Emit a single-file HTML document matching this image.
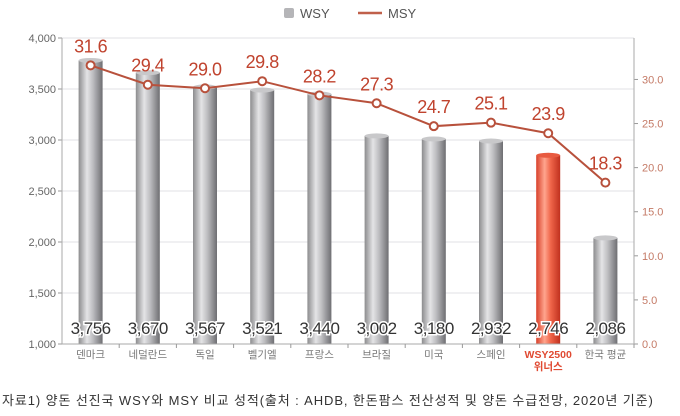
<!DOCTYPE html>
<html><head><meta charset="utf-8"><style>
html,body{margin:0;padding:0;background:#fff;width:680px;height:416px;overflow:hidden}
svg{display:block;font-family:"Liberation Sans","Noto Sans CJK KR",sans-serif}
</style></head><body>
<svg id="chart" width="680" height="416">
<defs>
<linearGradient id="gbar" x1="0" x2="1"><stop offset="0" stop-color="#8c8c8e"/><stop offset="0.35" stop-color="#e4e4e6"/><stop offset="0.6" stop-color="#bdbdc0"/><stop offset="1" stop-color="#6e6e72"/></linearGradient>
<linearGradient id="rbar" x1="0" x2="1"><stop offset="0" stop-color="#d8402a"/><stop offset="0.35" stop-color="#ffa58e"/><stop offset="0.6" stop-color="#f0664a"/><stop offset="1" stop-color="#c0301e"/></linearGradient>
</defs>
<g id="legend">
<rect x="284" y="8" width="10" height="10" rx="2" fill="#b5b5b8"/>
<text x="300" y="18" font-size="13" fill="#555">WSY</text>
<line x1="358" y1="13" x2="382" y2="13" stroke="#c0604a" stroke-width="2.5"/>
<text x="388" y="18" font-size="13" fill="#555">MSY</text>
</g>
<g id="grid"></g><g id="bars"></g><g id="axes"></g><g id="line"></g><g id="labels"></g>
<text x="2" y="405" font-size="13" fill="#333" letter-spacing="0.9">자료1) 양돈 선진국 WSY와 MSY 비교 성적(출처 : AHDB, 한돈팜스 전산성적 및 양돈 수급전망, 2020년 기준)</text>
</svg>
<script>
const categories=["덴마크","네덜란드","독일","벨기엘","프랑스","브라질","미국","스페인","WSY2500","한국 평균"];
const wsyValues=[3756,3670,3567,3521,3440,3002,3180,2932,2746,2086];
const wsyBarHeights=[3780,3660,3520,3490,3450,3040,3010,2990,2850,2040];
const msyValues=[31.6,29.4,29.0,29.8,28.2,27.3,24.7,25.1,23.9,18.3];
const leftTicks=[1000,1500,2000,2500,3000,3500,4000];
const rightTicks=[0,5,10,15,20,25,30];
const NS="http://www.w3.org/2000/svg";
const X0=62,X1=634,Y0=344,YT=38;
const yL=v=>Y0-(v-1000)/3000*(Y0-YT);
const yR=v=>Y0-v/34.7*(Y0-YT);
const bw=(X1-X0)/categories.length;
const xc=i=>X0+bw*(i+0.5);
function mk(tag,attrs,parent,txt){const e=document.createElementNS(NS,tag);for(const k in attrs)e.setAttribute(k,attrs[k]);if(txt!==undefined)e.textContent=txt;document.getElementById(parent).appendChild(e);return e;}
leftTicks.forEach(t=>{
 const g=mk('line',{x1:X0,x2:X1,y1:yL(t),y2:yL(t),stroke:'#e2e2e4','stroke-width':1},'grid');
 
 
 const l=mk('text',{x:X0-6,y:yL(t)+4,'font-size':11,fill:'#666','text-anchor':'end'},'axes',t.toLocaleString('en-US'));
 
 
 mk('line',{x1:X0-4,x2:X0,y1:yL(t),y2:yL(t),stroke:'#999'},'axes');
});
rightTicks.forEach(t=>{
 const l=mk('text',{x:X1+8,y:yR(t)+4,'font-size':11,fill:'#c47a66'},'axes',t.toFixed(1));
 
 
 mk('line',{x1:X1,x2:X1+4,y1:yR(t),y2:yR(t),stroke:'#999'},'axes');
});
mk('line',{x1:X0,x2:X0,y1:YT,y2:Y0,stroke:'#aaa'},'axes');
mk('line',{x1:X1,x2:X1,y1:YT,y2:Y0,stroke:'#aaa'},'axes');
mk('line',{x1:X0,x2:X1,y1:Y0,y2:Y0,stroke:'#aaa'},'axes');
categories.forEach((c,i)=>{
 const hot=i===8;
 const top=yL(wsyBarHeights[i]);
 const b=mk('rect',{x:xc(i)-12,y:top,width:24,height:Y0-top,fill:hot?'url(#rbar)':'url(#gbar)'},'bars');
 
 
 mk('ellipse',{cx:xc(i),cy:top,rx:12,ry:2.5,fill:hot?'#e85a40':'#c8c8ca'},'bars');
 mk('line',{x1:X0+bw*(i+1),x2:X0+bw*(i+1),y1:Y0,y2:Y0+4,stroke:'#999'},'axes');
 const v=mk('text',{x:xc(i),y:334,'font-size':17,fill:'#333','text-anchor':'middle','stroke':'#fff','stroke-width':3,'paint-order':'stroke','letter-spacing':'-0.5'},'labels',wsyValues[i].toLocaleString('en-US'));
 
 
 if(hot){
  const a=mk('text',{x:xc(i),y:358,'font-size':10.5,fill:'#e04a32','font-weight':'bold','text-anchor':'middle'},'labels',c);
  
  
  mk('text',{x:xc(i),y:370,'font-size':10.5,fill:'#e04a32','font-weight':'bold','text-anchor':'middle'},'labels','위너스');
 } else {
  const a=mk('text',{x:xc(i),y:358,'font-size':10.5,fill:'#777','text-anchor':'middle'},'labels',c);
  
  
 }
});
const pts=msyValues.map((v,i)=>xc(i)+','+yR(v)).join(' ');
const pl=mk('polyline',{points:pts,fill:'none',stroke:'#b8513c','stroke-width':2},'line');


msyValues.forEach((v,i)=>{
 const c=mk('circle',{cx:xc(i),cy:yR(v),r:4,fill:'#fff',stroke:'#b8513c','stroke-width':2},'line');
 
 
 const t=mk('text',{x:xc(i),y:yR(v)-13,'font-size':18,fill:'#c0432e','text-anchor':'middle','letter-spacing':'-0.5'},'labels',v.toFixed(1));
 
 
});
</script>
</body></html>
